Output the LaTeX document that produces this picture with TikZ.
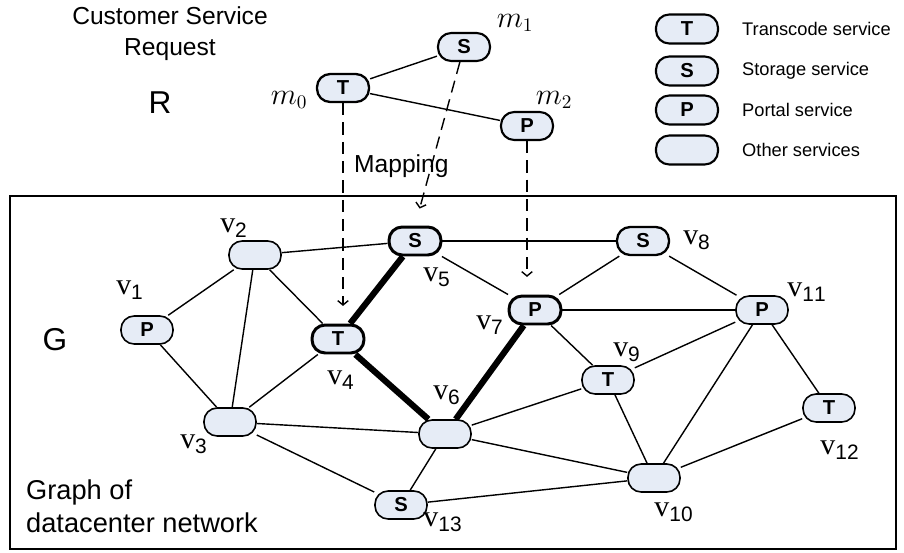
\documentclass[tikz,border=0pt]{standalone}
\usepackage{fontspec}
\setmainfont{Liberation Sans}
\newfontfamily\labfont{Liberation Serif}
\usetikzlibrary{arrows.meta}
\definecolor{svcfill}{RGB}{230,236,246}
\newcommand\vname[1]{{\labfont v}$_{\mathrm{#1}}$}
\tikzset{svc/.style={draw,fill=svcfill,rounded corners=7.5pt,minimum width=1.04cm,
    minimum height=0.56cm,inner sep=0pt,line width=0.9pt,
    font=\fontsize{11.5}{11.5}\selectfont\bfseries},
    hot/.style={svc,line width=1.7pt},
    key/.style={svc,minimum width=1.24cm,minimum height=0.58cm,line width=1.2pt},
    keytext/.style={anchor=west,font=\fontsize{10.4}{12}\selectfont},
    vlab/.style={font=\fontsize{17}{17}\selectfont},
    mlab/.style={font=\fontsize{16}{16}\selectfont},
    link/.style={line width=0.8pt},
    route/.style={line width=3.5pt},
    map/.style={line width=0.8pt,dash pattern=on 7pt off 4pt,
    -{Straight Barb[length=2.5pt,width=6pt]},shorten >=10pt}}

\begin{document}
\begin{tikzpicture}[x=0.02cm,y=-0.02cm]
\useasboundingbox (0,0) rectangle (904,552);
% request R
\node[align=center,font=\fontsize{14}{17.6}\selectfont] (title) at (170,34) {Customer Service\\Request};
\node[font=\fontsize{18}{18}\selectfont] (rname) at (160,103) {R};
\node[hot,line width=1.3pt] (m0) at (343,88) {T};
\node[svc,line width=1.2pt] (m1) at (464,47) {S};
\node[svc,line width=1.2pt] (m2) at (527,126) {P};
\node[mlab] (lm0) at (289,100) {$m_{0}$};
\node[mlab] (lm1) at (515,23) {$m_{1}$};
\node[mlab] (lm2) at (554,100) {$m_{2}$};
\draw[link] (m0) -- (m1);
\draw[link] (m0) -- (m2);
\node[anchor=west,font=\fontsize{14}{14}\selectfont] (mapping) at (348,166) {Mapping};
% legend
\node[key] (kt) at (687,29) {T};
\node[key] (ks) at (687,71) {S};
\node[key] (kp) at (687,110) {P};
\node[key] (ko) at (687,150) {};
\node[keytext] (tt) at (736,29) {Transcode service};
\node[keytext] (ts) at (736,71) {Storage service};
\node[keytext] (tp) at (736,110) {Portal service};
\node[keytext] (to) at (736,150) {Other services};
% graph G
\draw[line width=1pt] (10,196) rectangle (896,549);
\node[font=\fontsize{18}{18}\selectfont] (gname) at (55,340) {G};
\node[anchor=north west,align=left,font=\fontsize{15.5}{18.6}\selectfont] (gtext) at (20,474) {Graph of\\datacenter network};
\node[svc] (v1) at (147,330) {P};
\node[svc] (v2) at (255,255) {};
\node[svc] (v3) at (230,422) {};
\node[hot] (v4) at (338,339) {T};
\node[hot] (v5) at (415,241) {S};
\node[svc] (v6) at (445,434) {};
\node[hot] (v7) at (535,310) {P};
\node[svc,line width=1.3pt] (v8) at (643,241) {S};
\node[svc] (v9) at (608,380) {T};
\node[svc] (v10) at (654,478) {};
\node[svc] (v11) at (762,310) {P};
\node[svc] (v12) at (829,408) {T};
\node[svc] (v13) at (401,505) {S};
\node[vlab] (l1) at (130,290) {\vname{1}};
\node[vlab] (l2) at (234,228) {\vname{2}};
\node[vlab] (l3) at (194,444) {\vname{3}};
\node[vlab] (l4) at (341,380) {\vname{4}};
\node[vlab] (l5) at (437,277) {\vname{5}};
\node[vlab] (l6) at (447,395) {\vname{6}};
\node[vlab] (l7) at (490,325) {\vname{7}};
\node[vlab] (l8) at (697,240) {\vname{8}};
\node[vlab] (l9) at (627,352) {\vname{9}};
\node[vlab] (l10) at (674,512) {\vname{10}};
\node[vlab] (l11) at (807,292) {\vname{11}};
\node[vlab] (l12) at (840,450) {\vname{12}};
\node[vlab] (l13) at (443,522) {\vname{13}};
\draw[link] (v1) -- (v2);
\draw[link] (v1) -- (v3);
\draw[link] (v2) -- (v3);
\draw[link] (v2) -- (v4);
\draw[link] (v2) -- (v5);
\draw[link] (v3) -- (v4);
\draw[link] (v3) -- (v6);
\draw[link] (v3) -- (v13);
\draw[link] (v5) -- (v7);
\draw[link] (v5) -- (v8);
\draw[link] (v6) -- (v9);
\draw[link] (v6) -- (v10);
\draw[link] (v6) -- (v13);
\draw[link] (v7) -- (v8);
\draw[link] (v7) -- (v9);
\draw[link] (v7) -- (v11);
\draw[link] (v8) -- (v11);
\draw[link] (v9) -- (v10);
\draw[link] (v9) -- (v11);
\draw[link] (v10) -- (v11);
\draw[link] (v10) -- (v12);
\draw[link] (v11) -- (v12);
\draw[link] (v13) -- (v10);
\draw[route] (v4) -- (v5);
\draw[route] (v4) -- (v6);
\draw[route] (v6) -- (v7);
% mapping of R onto G
\draw[map] (m0) -- (m0 |- v4.north);
\draw[map] (m1) -- (v5.north);
\draw[map] (m2) -- (m2 |- v7.north);
\end{tikzpicture}
\end{document}
